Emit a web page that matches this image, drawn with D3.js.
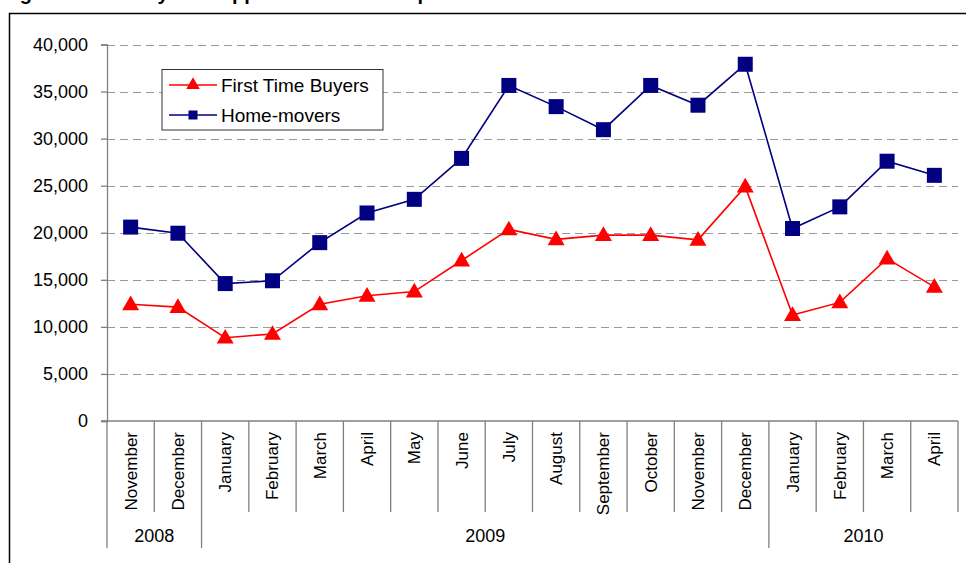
<!DOCTYPE html>
<html>
<head>
<meta charset="utf-8">
<script src="https://cdn.jsdelivr.net/npm/d3@7/dist/d3.min.js"></script>
<style>
  html, body { margin: 0; padding: 0; background: #fff; }
  svg { display: block; font-family: "Liberation Sans", Arial, sans-serif; }
</style>
</head>
<body>
<svg id="chart" width="966" height="563"></svg>
<script>
// Monthly loan approvals, Nov 2008 – Apr 2010
const months = ["November", "December", "January", "February", "March", "April", "May", "June",
  "July", "August", "September", "October", "November", "December", "January", "February", "March", "April"];
const yearLabels = ["2008", "2009", "2010"];
const yearSpans = [2, 12, 4];
const firstTimeBuyers = [12400, 12100, 8850, 9250, 12400, 13300, 13750, 17050, 20350, 19300,
  19750, 19750, 19250, 24900, 11250, 12600, 17250, 14250];
const homeMovers = [20600, 19950, 14600, 14900, 18950, 22100, 23550, 27900, 35650, 33400,
  30950, 35650, 33550, 37900, 20450, 22750, 27600, 26100];
const yTicks = [0, 5000, 10000, 15000, 20000, 25000, 30000, 35000, 40000];
const seriesNames = ["First Time Buyers", "Home-movers"];

const svg = d3.select("#chart");
const W = 966, H = 563;
const plot = { left: 107, right: 958, top: 44.5, bottom: 421 };

svg.append("rect").attr("width", W).attr("height", H).attr("fill", "#fff");

// Title (sits above the frame, mostly beyond the top edge)
svg.append("text")
  .attr("x", 2).attr("y", 0)
  .attr("font-size", 20).attr("font-weight", "bold").attr("fill", "#000")
  .text("Figure 3: Monthly loan approvals for house purchase");

// Outer frame
svg.append("rect")
  .attr("x", 9.5).attr("y", 13.5).attr("width", W).attr("height", H)
  .attr("fill", "none").attr("stroke", "#000").attr("stroke-width", 1.5);

const x = d3.scaleBand().domain(d3.range(months.length)).range([plot.left, plot.right]);
const y = d3.scaleLinear().domain([0, 40000]).range([plot.bottom, plot.top]);

// Horizontal dashed gridlines
svg.append("g").selectAll("line")
  .data(yTicks.filter(d => d > 0))
  .join("line")
  .attr("x1", plot.left).attr("x2", plot.right)
  .attr("y1", d => Math.round(y(d)) + 0.5).attr("y2", d => Math.round(y(d)) + 0.5)
  .attr("stroke", "#9a9a9a").attr("stroke-width", 1.2)
  .attr("stroke-dasharray", "8,5");

// Y axis
const yAxis = svg.append("g")
  .attr("transform", `translate(${plot.left},0)`)
  .call(d3.axisLeft(y).tickValues(yTicks).tickSize(6).tickPadding(13)
    .tickFormat(d3.format(",")));
yAxis.select(".domain").attr("stroke", "#7f7f7f").attr("stroke-width", 1.3);
yAxis.selectAll(".tick line").attr("stroke", "#7f7f7f").attr("stroke-width", 1.3);
yAxis.selectAll(".tick text")
  .attr("font-size", 18).attr("fill", "#000")
  .attr("font-family", "'Liberation Sans', Arial, sans-serif");

// X axis baseline
svg.append("line")
  .attr("x1", plot.left - 6).attr("x2", plot.right)
  .attr("y1", plot.bottom).attr("y2", plot.bottom)
  .attr("stroke", "#7f7f7f").attr("stroke-width", 1.3);

// Category separators
const bounds = d3.range(months.length + 1).map(i => i < months.length ? x(i) : x(months.length - 1) + x.bandwidth());
svg.append("g").selectAll("line")
  .data(bounds)
  .join("line")
  .attr("x1", d => d).attr("x2", d => d)
  .attr("y1", plot.bottom).attr("y2", 512)
  .attr("stroke", "#7f7f7f").attr("stroke-width", 1.3);

// Month labels
svg.append("g").selectAll("text")
  .data(months)
  .join("text")
  .attr("transform", (d, i) => `translate(${x(i) + x.bandwidth() / 2 + 6},432) rotate(-90)`)
  .attr("text-anchor", "end")
  .attr("font-size", 17).attr("fill", "#000")
  .text(d => d);

// Year groups
const yearStarts = yearSpans.map((s, i) => d3.sum(yearSpans.slice(0, i)));
const yearEdges = yearStarts.map(s => x(s));
svg.append("g").selectAll("line")
  .data(yearEdges)
  .join("line")
  .attr("x1", d => d).attr("x2", d => d)
  .attr("y1", 512).attr("y2", 548)
  .attr("stroke", "#7f7f7f").attr("stroke-width", 1.3);
svg.append("g").selectAll("text")
  .data(yearLabels)
  .join("text")
  .attr("x", (d, i) => {
    const a = x(yearStarts[i]);
    const last = yearStarts[i] + yearSpans[i] - 1;
    const b = x(last) + x.bandwidth();
    return (a + b) / 2;
  })
  .attr("y", 542)
  .attr("text-anchor", "middle")
  .attr("font-size", 18).attr("fill", "#000")
  .text(d => d);

const cx = i => x(i) + x.bandwidth() / 2;
const line = d3.line().x((d, i) => cx(i)).y(d => y(d));
const tri = d3.symbol().type(d3.symbolTriangle);

// Home-movers
svg.append("path").datum(homeMovers)
  .attr("d", line).attr("fill", "none")
  .attr("stroke", "#000080").attr("stroke-width", 1.6);
svg.append("g").selectAll("rect")
  .data(homeMovers)
  .join("rect")
  .attr("x", (d, i) => cx(i) - 7.5).attr("y", d => y(d) - 7.5)
  .attr("width", 15).attr("height", 15)
  .attr("fill", "#000080");

// First Time Buyers
svg.append("path").datum(firstTimeBuyers)
  .attr("d", line).attr("fill", "none")
  .attr("stroke", "#ff0000").attr("stroke-width", 1.6);
svg.append("g").selectAll("path")
  .data(firstTimeBuyers)
  .join("path")
  .attr("d", tri.size(125))
  .attr("transform", (d, i) => `translate(${cx(i)},${y(d) + 1})`)
  .attr("fill", "#ff0000");

// Legend
const lg = svg.append("g");
lg.append("rect")
  .attr("x", 162).attr("y", 69.5).attr("width", 221).attr("height", 60.5)
  .attr("fill", "#fff").attr("stroke", "#333").attr("stroke-width", 1);
const legendRows = [
  { name: seriesNames[0], color: "#ff0000", y: 85 },
  { name: seriesNames[1], color: "#000080", y: 115 }
];
legendRows.forEach((r, i) => {
  lg.append("line").attr("x1", 169).attr("x2", 217).attr("y1", r.y).attr("y2", r.y)
    .attr("stroke", r.color).attr("stroke-width", 1.6);
  if (i === 0) {
    lg.append("path").attr("d", d3.symbol().type(d3.symbolTriangle).size(80)())
      .attr("transform", `translate(193,${r.y})`).attr("fill", r.color);
  } else {
    lg.append("rect").attr("x", 188.5).attr("y", r.y - 4.5).attr("width", 9).attr("height", 9)
      .attr("fill", r.color);
  }
  lg.append("text").attr("x", 221).attr("y", r.y + 6.5)
    .attr("font-size", 19).attr("fill", "#000").text(r.name);
});
</script>
</body>
</html>
